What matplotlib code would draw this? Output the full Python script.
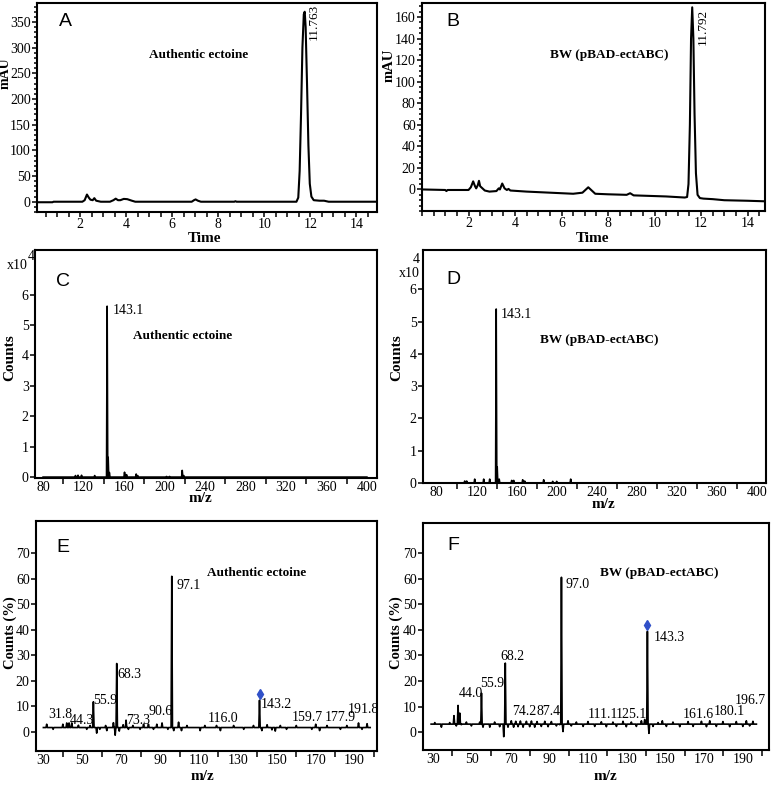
import matplotlib
matplotlib.use("Agg")
import matplotlib.pyplot as plt
from matplotlib.ticker import FixedLocator, MultipleLocator

plt.rcParams['font.family'] = ['Liberation Serif', 'DejaVu Serif']

# ---------------- HPLC chromatograms (time in min, mAU) ----------------
hplc_a_time = [0.15, 0.80, 0.85, 2.10, 2.20, 2.30, 2.38, 2.45, 2.55, 2.62, 2.70, 2.90,
               3.30, 3.45, 3.55, 3.65, 3.75, 3.90, 4.05, 4.25, 4.40, 6.85, 6.95, 7.02,
               7.12, 7.25, 8.70, 8.75, 8.80, 11.40, 11.48, 11.54, 11.60, 11.66, 11.72,
               11.76, 11.80, 11.86, 11.92, 11.98, 12.05, 12.15, 12.40, 12.60, 12.80, 14.85]
hplc_a_mau = [-1, -1, 0, 0, 3, 14, 8, 4, 3, 7, 2, 0,
              0, 3, 6, 3, 3, 5.5, 5, 2, 0, 0, 3, 4.5,
              2, 0, 0, 1, 0, 0, 8, 60, 170, 300, 365,
              370, 340, 230, 110, 35, 10, 3, 2, 2, 0, 0]

hplc_b_time = [0.00, 1.00, 1.05, 1.10, 2.00, 2.10, 2.20, 2.28, 2.33, 2.40, 2.45, 2.50,
               2.70, 2.90, 3.20, 3.30, 3.35, 3.45, 3.55, 3.65, 3.72, 3.80, 4.50, 5.50,
               6.50, 6.90, 7.05, 7.15, 7.30, 7.45, 8.00, 8.80, 8.95, 9.10, 10.50, 11.30,
               11.40, 11.46, 11.52, 11.57, 11.62, 11.67, 11.72, 11.78, 11.85, 11.95, 12.10,
               12.50, 13.00, 14.00, 14.75]
hplc_b_mau = [0, -0.5, -1.5, -0.5, -0.5, 2, 7.5, 3, 1, 4, 8, 3,
              -1, -2, -1.5, 1, 0, 5.5, 1, -0.5, 0.5, -1, -2, -3,
              -4, -3, 0, 2, -1, -4, -4.5, -5, -3.5, -5.5, -6.5, -7.5,
              -7, 5, 60, 140, 169, 140, 70, 15, -5, -8, -8.5,
              -9, -10, -10.5, -11]

# ---------------- full-scan MS (m/z, counts x10^4) ----------------
ms_c_mz = [112, 114.5, 118, 131, 143.3, 144.3, 145.5, 160.5, 162.5, 172, 173.5,
           202, 205, 217.5, 219]
ms_c_counts = [0.05, 0.06, 0.06, 0.05, 5.62, 0.65, 0.15, 0.16, 0.08, 0.10, 0.05,
               0.02, 0.02, 0.22, 0.05]

ms_d_mz = [108, 110, 118, 127, 133, 139.5, 140.5, 142.5, 155, 157, 166, 168,
           187, 196, 200, 214]
ms_d_counts = [0.06, 0.06, 0.12, 0.12, 0.12, 5.39, 0.5, 0.12, 0.08, 0.08, 0.10, 0.06,
               0.10, 0.05, 0.05, 0.12]

# ---------------- MS/MS spectra (m/z, counts %) ----------------
msms_e_mz = [31.7, 35, 40, 42, 43.2, 44.6, 48, 52.3, 54, 55.7, 57.4, 59, 62, 62.6,
             66, 66.9, 67.7, 69, 71, 72.5, 73.7, 76, 79.7, 81.5, 84, 86.6, 88.3, 91,
             94, 96.0, 97, 99.5, 101, 103.8, 110.6, 113, 119, 121, 127.8, 133, 138,
             141.1, 142.3, 145, 147.5, 149.2, 151.8, 155, 160, 168, 170, 172, 175.8,
             182.7, 186, 192, 193.8, 196.4]
msms_e_pct = [3, 1, 3, 3.5, 3.5, 3.5, 2.6, 1, 2.5, 11.8, -0.5, 1, 2.5, 0.5,
              3.6, -1.3, 26.8, 0.3, 2.8, 4.6, 1, 2.5, 1, 3, 3, 1, 3, 3.5,
              1, 61, 0.5, 3.8, 0.5, 2.5, 0.5, 2.5, 2.5, 0.5, 2.5, 1, 2.5,
              12.4, 0.5, 2.8, 0.8, 0.3, 2.5, 1, 2.5, 1, 3, 0.5, 2.5,
              1, 2.5, 3.5, 1, 3.2]
msms_e_labels = ['31.8', '44.3', '55.9', '68.3', '73.3', '90.6', '97.1', '116.0',
                 '143.2', '159.7', '177.9', '191.8']
msms_e_precursor = (141.1, 14.8)

msms_f_mz = [30.9, 34.3, 38.6, 40.8, 42, 42.9, 43.8, 44.6, 47.2, 49.8, 54.1, 55.0,
             55.8, 59.3, 61.8, 64.4, 66.5, 67.3, 68.7, 70.4, 71.6, 72.7, 73.9, 75.1,
             76.5, 78.2, 79.9, 80.8, 82.5, 83.7, 85.9, 87.7, 89.4, 91.1, 93.7, 95.4,
             96.3, 97.1, 99.7, 101.4, 104, 107.5, 110, 113.5, 116.9, 119.5, 122.9,
             124.7, 128.1, 129.8, 132.4, 135, 137.6, 139.3, 140.7, 141.5, 143.6,
             146.2, 148.4, 150.5, 153.9, 157.4, 161.7, 164.3, 168.6, 171.2, 172.9,
             176.3, 179.7, 183.2, 186.6, 190, 191.8, 193.5, 195.2]
msms_f_pct = [3.8, 2, 3.8, 6.5, 2.5, 10.5, 7.5, 3, 4, 2.5, 4, 15.3,
              2, 2, 4, 2.2, -1.7, 27, 2, 4.5, 2, 4.3, 2.2, 4.4,
              2, 4.3, 2.2, 4.4, 2, 4.2, 2.3, 4.3, 2.2, 4.2, 2.5, 3,
              60.5, 0.3, 4.5, 2.5, 4, 2.3, 4.2, 2.3, 4.1, 2.2, 4,
              2.3, 4.3, 2.2, 4, 2.3, 4.5, 5, 39.4, -0.4, 2.3,
              3.8, 4.5, 2.3, 4, 2.2, 4.2, 2.3, 4.3, 2.2, 4.5,
              2.3, 4.2, 2.2, 4.2, 2.3, 4.5, 2.5, 4.3]
msms_f_labels = ['44.0', '55.9', '68.2', '74.2', '87.4', '97.0', '111.1', '125.1',
                 '143.3', '161.6', '180.1', '196.7']
msms_f_precursor = (140.7, 41.9)


def stick_trace(mz, values, level, start, stop, half_width):
    """Turn a list of peaks into a profile line sitting on a baseline."""
    xs, ys = [start], [level]
    for m, v in sorted(zip(mz, values)):
        xs += [m - half_width, m, m + half_width]
        ys += [level, v, level]
    xs.append(stop)
    ys.append(level)
    return xs, ys


def style_axes(ax):
    for s in ax.spines.values():
        s.set_linewidth(1.5)
    ax.tick_params(which='both', direction='out', width=1.1, labelsize=10, pad=1)
    ax.tick_params(which='major', length=3.5)
    ax.tick_params(which='minor', length=2)


W, H = 778, 785
fig = plt.figure(figsize=(W / 100, H / 100), dpi=100)


def px_axes(left, top, right, bottom):
    return fig.add_axes([left / W, 1 - bottom / H, (right - left) / W, (bottom - top) / H])


def px_text(x, y, s, **kw):
    fig.text(x / W, 1 - y / H, s, ha='center', va='center', **kw)


ax_a = px_axes(37, 3, 377, 212)
ax_b = px_axes(422, 3, 765, 211)
ax_c = px_axes(35, 250, 377, 478)
ax_d = px_axes(423, 250, 766, 483)
ax_e = px_axes(36, 521, 377, 751)
ax_f = px_axes(423, 523, 769, 750)

# ---- A / B: chromatograms ----
ax_a.plot(hplc_a_time, hplc_a_mau, color='black', lw=1.5)
ax_a.set_xlim(0.13, 14.9)
ax_a.set_ylim(-20, 387)
ax_a.yaxis.set_major_locator(FixedLocator(range(0, 351, 50)))
ax_a.yaxis.set_minor_locator(MultipleLocator(10))
ax_a.text(7.13, 285, 'Authentic ectoine', ha='center', va='center', fontsize=9.5, fontweight='bold')
ax_a.text(12.14, 385, '11.763', rotation=90, ha='center', va='top', fontsize=9.5)

ax_b.plot(hplc_b_time, hplc_b_mau, color='black', lw=1.5)
ax_b.set_xlim(0, 14.75)
ax_b.set_ylim(-20, 173)
ax_b.yaxis.set_major_locator(FixedLocator(range(0, 161, 20)))
ax_b.yaxis.set_minor_locator(MultipleLocator(5))
ax_b.text(8.05, 125, 'BW (pBAD-ectABC)', ha='center', va='center', fontsize=9.5, fontweight='bold')
ax_b.text(12.09, 168, '11.792', rotation=90, ha='center', va='top', fontsize=9.5)

for ax in (ax_a, ax_b):
    style_axes(ax)
    ax.xaxis.set_major_locator(FixedLocator(range(2, 15, 2)))
    ax.xaxis.set_minor_locator(MultipleLocator(0.5))
    ax.tick_params(axis='x', which='minor', length=3.5)

# ---- C / D: full-scan MS ----
xs, ys = stick_trace(ms_c_mz, ms_c_counts, 0, 80, 400, 0.6)
ax_c.plot(xs, ys, color='black', lw=1.2)
ax_c.set_xlim(72, 410)
ax_c.set_ylim(-0.03, 7.47)
ax_c.text(149, 5.48, '143.1', ha='left', va='center', fontsize=10)
ax_c.text(218, 4.63, 'Authentic ectoine', ha='center', va='center', fontsize=9.5, fontweight='bold')

xs, ys = stick_trace(ms_d_mz, ms_d_counts, 0, 76, 400, 0.6)
ax_d.plot(xs, ys, color='black', lw=1.2)
ax_d.set_xlim(66.3, 409.3)
ax_d.set_ylim(0, 7.22)
ax_d.text(144.3, 5.21, '143.1', ha='left', va='center', fontsize=10)
ax_d.text(243, 4.44, 'BW (pBAD-ectABC)', ha='center', va='center', fontsize=9.5, fontweight='bold')

for ax in (ax_c, ax_d):
    style_axes(ax)
    ax.yaxis.set_major_locator(FixedLocator(range(0, 7)))
    ax.xaxis.set_major_locator(FixedLocator(range(80, 401, 40)))
    ax.xaxis.set_minor_locator(FixedLocator(range(100, 381, 40)))
    ax.tick_params(axis='x', which='major', length=0, pad=2)
    ax.tick_params(axis='x', which='minor', length=4)

# ---- E / F: MS/MS ----
xs, ys = stick_trace(msms_e_mz, msms_e_pct, 1.7, 30, 198, 0.35)
ax_e.plot(xs, ys, color='black', lw=1.2)
ax_e.plot(*msms_e_precursor, marker='d', color='#3050c8', ms=5)
ax_e.set_xlim(26.2, 201.5)
ax_e.set_ylim(-7.5, 82.7)
e_label_pos = [(38.6, 6.8), (50, 4.6), (61.7, 12.4), (74.3, 22.6), (78.9, 4.6), (90, 7.9),
               (104.6, 57.6), (122.6, 5.2), (149.7, 10.7), (165.5, 5.5), (182.7, 5.5), (194.3, 8.8)]
for lab, (x, y) in zip(msms_e_labels, e_label_pos):
    ax_e.text(x, y, lab, ha='center', va='center', fontsize=10)
ax_e.text(139.8, 62.2, 'Authentic ectoine', ha='center', va='center', fontsize=9.5, fontweight='bold')

xs, ys = stick_trace(msms_f_mz, msms_f_pct, 3.2, 29, 197, 0.35)
ax_f.plot(xs, ys, color='black', lw=1.2)
ax_f.plot(*msms_f_precursor, marker='d', color='#3050c8', ms=5)
ax_f.set_xlim(24.8, 203.5)
ax_f.set_ylim(-6.9, 81.7)
f_label_pos = [(49.3, 15.0), (60.5, 19.2), (70.8, 29.6), (77.3, 8.1), (89.4, 8.1), (104.4, 57.6),
               (117.8, 7.0), (132.4, 7.0), (152.2, 37.2), (166.8, 6.8), (183.2, 8.1), (194, 12.6)]
for lab, (x, y) in zip(msms_f_labels, f_label_pos):
    ax_f.text(x, y, lab, ha='center', va='center', fontsize=10)
ax_f.text(147, 62.2, 'BW (pBAD-ectABC)', ha='center', va='center', fontsize=9.5, fontweight='bold')

for ax in (ax_e, ax_f):
    style_axes(ax)
    ax.yaxis.set_major_locator(FixedLocator(range(0, 71, 10)))
    ax.xaxis.set_major_locator(FixedLocator(range(30, 191, 20)))
    ax.xaxis.set_minor_locator(FixedLocator(range(40, 201, 20)))
    ax.tick_params(axis='x', which='major', length=0, pad=2)
    ax.tick_params(axis='x', which='minor', length=4)

# ---- axis titles, panel letters, exponent marks ----
bold = dict(fontsize=11, fontweight='bold')
px_text(5, 73, 'mAU', rotation=90, fontsize=10, fontweight='bold')
px_text(389, 65, 'mAU', rotation=90, fontsize=10.5, fontweight='bold')
px_text(205, 239, 'Time', **bold)
px_text(592, 239, 'Time', **bold)
px_text(10, 358, 'Counts', rotation=90, **bold)
px_text(397, 358, 'Counts', rotation=90, **bold)
px_text(200, 499, 'm/z', **bold)
px_text(603, 505, 'm/z', **bold)
px_text(10, 633, 'Counts (%)', rotation=90, fontsize=10.5, fontweight='bold')
px_text(396, 633, 'Counts (%)', rotation=90, fontsize=10.5, fontweight='bold')
px_text(202, 777, 'm/z', **bold)
px_text(605, 777, 'm/z', **bold)

for letter, x, y in [('A', 65, 22), ('B', 453, 22), ('C', 63, 282),
                     ('D', 453, 280), ('E', 63, 548), ('F', 453, 546)]:
    px_text(x, y, letter, fontsize=14, family='Liberation Sans')

px_text(17, 266, 'x10', fontsize=10)
px_text(31, 256, '4', fontsize=10)
px_text(409.5, 274, 'x10', fontsize=10)
px_text(416.5, 260, '4', fontsize=10)

fig.savefig('out.png', dpi=100)
